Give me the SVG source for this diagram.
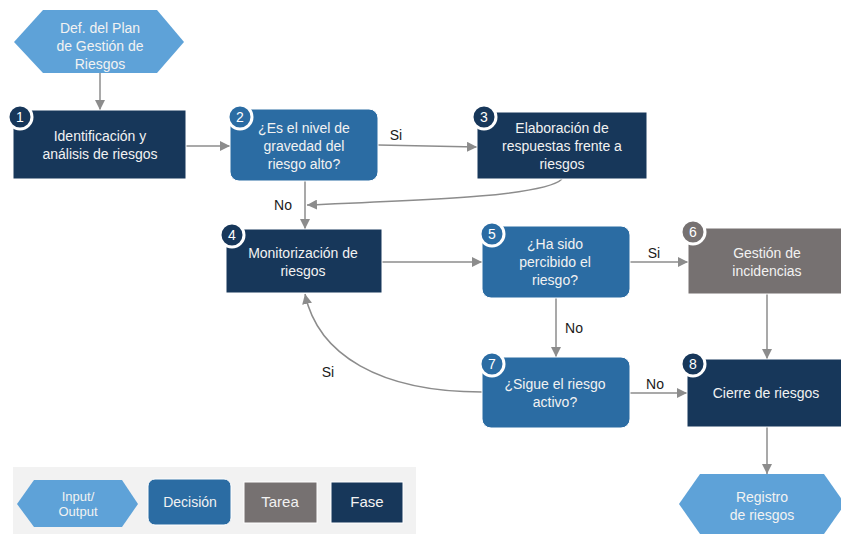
<svg xmlns="http://www.w3.org/2000/svg" width="841" height="534" viewBox="0 0 841 534">
<style>
text{font-family:"Liberation Sans",Arial,sans-serif;}
.t{fill:#f2f2f2;font-size:14px;text-anchor:middle;}
.lb{fill:#1a1a1a;font-size:14px;text-anchor:middle;}
.n{fill:#fff;font-size:14px;text-anchor:middle;}
.io{fill:#5ea2d8;}
.dec{fill:#2b6ca3;stroke:#fff;stroke-width:1;}
.task{fill:#767171;stroke:#fff;stroke-width:1;}
.fase{fill:#17375a;stroke:#fff;stroke-width:1;}
.badge{stroke:#fff;stroke-width:3;}
.c{fill:none;stroke:#8c8c8c;stroke-width:1.5;marker-end:url(#ah);}
</style>
<defs>
<marker id="ah" viewBox="0 0 10 10" refX="10" refY="5" markerWidth="10" markerHeight="10" markerUnits="userSpaceOnUse" orient="auto">
<path d="M0,0 L10,5 L0,10 z" fill="#8c8c8c"/>
</marker>
</defs>
<rect width="841" height="534" fill="#fff"/>

<g id="connectors">
<path class="c" d="M100,73 L100,110"/>
<path class="c" d="M186,146 L230,146"/>
<path class="c" d="M378,145 L477,147"/>
<path class="c" d="M562,179 C545,196 430,200 307,205"/>
<path class="c" d="M305,181 L305,229"/>
<path class="c" d="M382,262 L482,262"/>
<path class="c" d="M630,262 L688,262"/>
<path class="c" d="M556,298 L556,357"/>
<path class="c" d="M767,294 L767,359"/>
<path class="c" d="M630,393 L687,393"/>
<path class="c" d="M767,427 L767,474"/>
<path class="c" d="M482,392 C380,392 318,355 305,294"/>
<text class="lb" x="396" y="140">Si</text>
<text class="lb" x="283" y="210">No</text>
<text class="lb" x="654" y="258">Si</text>
<text class="lb" x="574" y="333">No</text>
<text class="lb" x="328" y="377">Si</text>
<text class="lb" x="655" y="389">No</text>
</g>

<g id="start">
<polygon class="io" points="14,42 43,10 157,10 184,42 157,73 43,73"/>
<text class="t" x="100" y="33">Def. del Plan</text>
<text class="t" x="100" y="51">de Gestión de</text>
<text class="t" x="100" y="69">Riesgos</text>
</g>

<g id="n1">
<rect class="fase" x="13" y="110" width="173" height="69"/>
<circle class="badge" cx="20" cy="117" r="12" fill="#17375a"/>
<text class="n" x="20" y="122">1</text>
<text class="t" x="100" y="141">Identificación y</text>
<text class="t" x="100" y="159">análisis de riesgos</text>
</g>

<g id="n2">
<rect class="dec" x="230" y="109" width="148" height="72" rx="9"/>
<circle class="badge" cx="240" cy="117" r="12" fill="#2b6ca3"/>
<text class="n" x="240" y="122">2</text>
<text class="t" x="304" y="133">¿Es el nivel de</text>
<text class="t" x="304" y="151">gravedad del</text>
<text class="t" x="304" y="169">riesgo alto?</text>
</g>

<g id="n3">
<rect class="fase" x="477" y="112" width="170" height="67"/>
<circle class="badge" cx="484" cy="117" r="12" fill="#17375a"/>
<text class="n" x="484" y="122">3</text>
<text class="t" x="562" y="133">Elaboración de</text>
<text class="t" x="562" y="151">respuestas frente a</text>
<text class="t" x="562" y="169">riesgos</text>
</g>

<g id="n4">
<rect class="fase" x="226" y="229" width="156" height="64"/>
<circle class="badge" cx="232" cy="235" r="12" fill="#17375a"/>
<text class="n" x="232" y="240">4</text>
<text class="t" x="303" y="258">Monitorización de</text>
<text class="t" x="303" y="276">riesgos</text>
</g>

<g id="n5">
<rect class="dec" x="482" y="226" width="148" height="72" rx="9"/>
<circle class="badge" cx="492" cy="234" r="12" fill="#2b6ca3"/>
<text class="n" x="492" y="239">5</text>
<text class="t" x="555" y="249">¿Ha sido</text>
<text class="t" x="555" y="267">percibido el</text>
<text class="t" x="555" y="285">riesgo?</text>
</g>

<g id="n6">
<rect class="task" x="688" y="228" width="160" height="66"/>
<circle class="badge" cx="693" cy="232" r="12" fill="#767171"/>
<text class="n" x="693" y="237">6</text>
<text class="t" x="767" y="258">Gestión de</text>
<text class="t" x="767" y="276">incidencias</text>
</g>

<g id="n7">
<rect class="dec" x="482" y="357" width="148" height="71" rx="9"/>
<circle class="badge" cx="492" cy="364" r="12" fill="#2b6ca3"/>
<text class="n" x="492" y="369">7</text>
<text class="t" x="555" y="389">¿Sigue el riesgo</text>
<text class="t" x="555" y="407">activo?</text>
</g>

<g id="n8">
<rect class="fase" x="687" y="359" width="160" height="68"/>
<circle class="badge" cx="693" cy="364" r="12" fill="#17375a"/>
<text class="n" x="693" y="369">8</text>
<text class="t" x="766" y="398">Cierre de riesgos</text>
</g>

<g id="end">
<polygon class="io" points="679,504 700,474 824,474 845,504 824,534 700,534"/>
<text class="t" x="762" y="502">Registro</text>
<text class="t" x="762" y="520">de riesgos</text>
</g>

<g id="legend">
<rect x="13" y="467" width="403" height="67" fill="#f2f2f2"/>
<polygon class="io" points="17,504 34,480 122,480 138,504 122,527 34,527"/>
<text class="t" x="78" y="501" style="font-size:13px">Input/</text>
<text class="t" x="78" y="516" style="font-size:13px">Output</text>
<rect class="dec" x="148" y="479" width="83" height="46" rx="7"/>
<text class="t" x="190" y="507">Decisión</text>
<rect class="task" x="244" y="482" width="73" height="41"/>
<text class="t" x="280" y="507" style="font-size:15px">Tarea</text>
<rect class="fase" x="331" y="482" width="72" height="41"/>
<text class="t" x="367" y="507" style="font-size:15px">Fase</text>
</g>
</svg>
